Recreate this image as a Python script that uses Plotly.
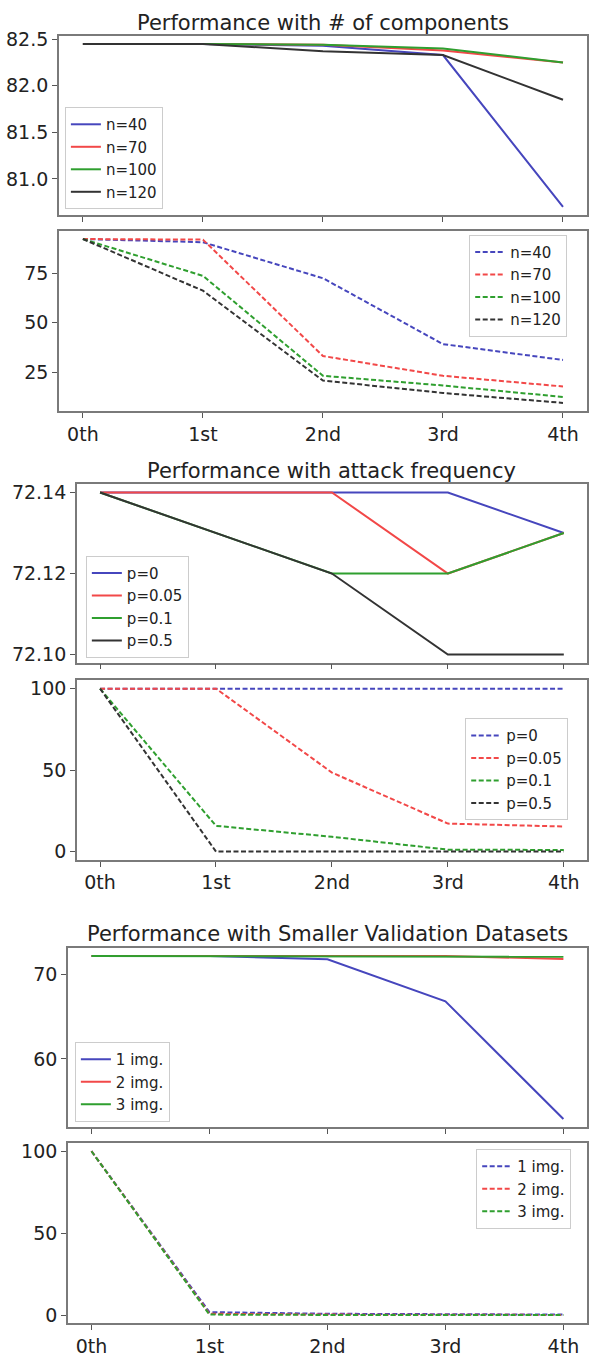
import plotly.graph_objects as go

W, H = 589, 1357

x_labels = ["0th", "1st", "2nd", "3rd", "4th"]
x_idx = [0, 1, 2, 3, 4]

# Panel 1: Performance with # of components (accuracy)
comp_labels = ["n=40", "n=70", "n=100", "n=120"]
comp_n40 = [82.45, 82.45, 82.43, 82.33, 80.70]
comp_n70 = [82.45, 82.45, 82.44, 82.38, 82.25]
comp_n100 = [82.45, 82.45, 82.44, 82.40, 82.25]
comp_n120 = [82.45, 82.45, 82.37, 82.33, 81.85]

# Panel 2: components (attack rate)
asr_n40 = [92.3, 90.7, 72.5, 39.2, 31.2]
asr_n70 = [92.3, 92.0, 33.2, 23.2, 17.8]
asr_n100 = [92.3, 73.7, 23.2, 18.3, 12.5]
asr_n120 = [92.3, 66.2, 20.8, 14.5, 9.5]

# Panel 3: Performance with attack frequency
freq_labels = ["p=0", "p=0.05", "p=0.1", "p=0.5"]
freq_p0 = [72.14, 72.14, 72.14, 72.14, 72.13]
freq_p005 = [72.14, 72.14, 72.14, 72.12, 72.13]
freq_p01 = [72.14, 72.13, 72.12, 72.12, 72.13]
freq_p05 = [72.14, 72.13, 72.12, 72.10, 72.10]

# Panel 4: attack frequency (attack rate)
asr_p0 = [100, 100, 100, 100, 100]
asr_p005 = [100, 100, 48.5, 17.2, 15.4]
asr_p01 = [100, 15.8, 9.1, 1.2, 1.0]
asr_p05 = [100, 0, 0, 0, 0]

# Panel 5: Performance with Smaller Validation Datasets
val_labels = ["1 img.", "2 img.", "3 img."]
val_1 = [72.14, 72.14, 71.75, 66.8, 52.9]
val_2 = [72.14, 72.14, 72.14, 72.14, 71.8]
val_3 = [72.14, 72.14, 72.14, 72.14, 72.06]

# Panel 6: validation datasets (attack rate)
val_asr_1 = [100, 2.0, 1.0, 0.8, 0.5]
val_asr_2 = [100, 1.0, 0.5, 0.4, 0.3]
val_asr_3 = [100, 0.5, 0.3, 0.3, 0.2]

titles = ["Performance with # of components",
          "Performance with attack frequency",
          "Performance with Smaller Validation Datasets"]

COLORS = ["#4646bd", "#f24848", "#2f9f2f", "#333333"]
FONT = "DejaVu Sans"
TXT = "#222222"

# pixel layout of each panel: (left, right, top, bottom)
boxes = [
    (59, 588, 28, 209),
    (59, 588, 225, 407),
    (77, 588, 481, 661),
    (77, 588, 679, 860),
    (68, 588, 949, 1130),
    (68, 588, 1146, 1328),
]

panels = [
    (comp_labels, [comp_n40, comp_n70, comp_n100, comp_n120], "solid", [81.0, 81.5, 82.0, 82.5], ["81.0", "81.5", "82.0", "82.5"]),
    (comp_labels, [asr_n40, asr_n70, asr_n100, asr_n120], "5px,2.5px", [25, 50, 75], ["25", "50", "75"]),
    (freq_labels, [freq_p0, freq_p005, freq_p01, freq_p05], "solid", [72.10, 72.12, 72.14], ["72.10", "72.12", "72.14"]),
    (freq_labels, [asr_p0, asr_p005, asr_p01, asr_p05], "5px,2.5px", [0, 50, 100], ["0", "50", "100"]),
    (val_labels, [val_1, val_2, val_3], "solid", [60, 70], ["60", "70"]),
    (val_labels, [val_asr_1, val_asr_2, val_asr_3], "5px,2.5px", [0, 50, 100], ["0", "50", "100"]),
]

# legend boxes (left, top) in pixels
legend_pos = [(65, 100), (470, 229), (86, 553), (466, 717), (75, 1044), (477, 1152)]

fig = go.Figure()
layout = dict(
    width=W, height=H,
    margin=dict(l=0, r=0, t=0, b=0),
    paper_bgcolor="white", plot_bgcolor="white",
    font=dict(family=FONT, color=TXT),
    showlegend=True,
)

for i, (labels, series, dash, yt, ytt) in enumerate(panels):
    k = i + 1
    suffix = "" if k == 1 else str(k)
    lg = "legend" if k == 1 else f"legend{k}"
    for j, (lab, vals) in enumerate(zip(labels, series)):
        fig.add_trace(go.Scatter(
            x=x_idx, y=vals, mode="lines", name=lab,
            line=dict(color=COLORS[j], width=2, dash=dash),
            xaxis=f"x{suffix}", yaxis=f"y{suffix}", legend=lg,
        ))
    l, r, t, b = boxes[i]
    allv = [v for s in series for v in s]
    lo, hi = min(allv), max(allv)
    span = hi - lo
    yr = [lo - 0.05 * span, hi + 0.05 * span]
    bottom_panel = (k % 2 == 0)
    layout[f"xaxis{suffix}"] = dict(
        domain=[l / W, r / W], anchor=f"y{suffix}",
        range=[-0.2, 4.2], tickvals=x_idx, ticktext=x_labels,
        showticklabels=bottom_panel,
        showline=True, mirror=True, linecolor="#7a7a7a", linewidth=1.5,
        ticks="outside", ticklen=5, tickwidth=1.2, tickcolor="#555",
        showgrid=False, zeroline=False,
        tickfont=dict(family=FONT, size=19, color=TXT),
    )
    layout[f"yaxis{suffix}"] = dict(
        domain=[1 - b / H, 1 - t / H], anchor=f"x{suffix}",
        range=yr, tickvals=yt, ticktext=ytt,
        showline=True, mirror=True, linecolor="#7a7a7a", linewidth=1.5,
        ticks="outside", ticklen=5, tickwidth=1.2, tickcolor="#555",
        showgrid=False, zeroline=False,
        tickfont=dict(family=FONT, size=19, color=TXT),
    )
    lx, ly = legend_pos[i]
    layout[lg] = dict(
        x=lx / W, y=1 - ly / H, xanchor="left", yanchor="top",
        xref="paper", yref="paper",
        bgcolor="rgba(255,255,255,0.85)", bordercolor="#cccccc", borderwidth=1,
        font=dict(family=FONT, size=15, color=TXT),
        tracegroupgap=0,
    )

# titles
title_pos = [(15, 0), (467, 2), (935, 4)]
ann = []
for (yc, bi), txt in zip(title_pos, titles):
    l, r, t, b = boxes[bi]
    ann.append(dict(
        text=txt, x=(l + r) / 2 / W, y=1 - yc / H, xref="paper", yref="paper",
        xanchor="center", yanchor="middle", showarrow=False,
        font=dict(family=FONT, size=21, color=TXT),
    ))
layout["annotations"] = ann

fig.update_layout(**layout)
fig.write_html("out.html")
